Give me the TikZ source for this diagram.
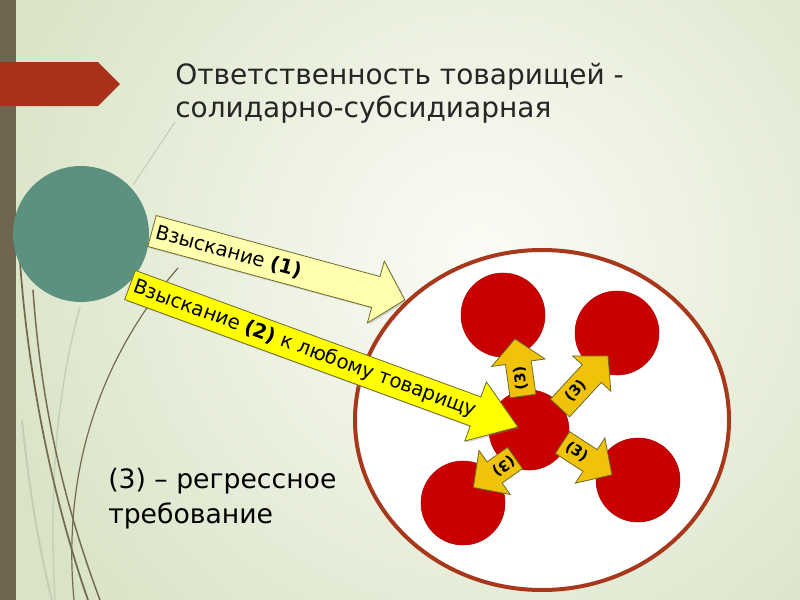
\documentclass[tikz,border=0pt]{standalone}
\usepackage{fontspec}
\setmainfont{DejaVu Sans}
\usetikzlibrary{calc,shadows}
\definecolor{bgouter}{HTML}{D9E3C6}
\definecolor{bginner}{HTML}{FBFCF6}
\definecolor{barcol}{HTML}{6E6650}
\definecolor{pentred}{HTML}{A93119}
\definecolor{tealc}{HTML}{5B917E}
\definecolor{ringcol}{HTML}{A8381C}
\definecolor{redc}{HTML}{C80000}
\definecolor{paley}{HTML}{FFFFAE}
\definecolor{brighty}{HTML}{FFFF00}
\definecolor{goldc}{HTML}{F0C20A}
\definecolor{olivec}{HTML}{6F6A2A}
\definecolor{wisp}{HTML}{736A50}
\definecolor{wisplight}{HTML}{C6CCB6}
\definecolor{txt}{HTML}{262626}
\tikzset{
  bigarrow/.style={draw=olivec, line width=0.6pt, line join=miter},
  arrowshadow/.style={drop shadow={opacity=0.3, shadow xshift=1.2pt, shadow yshift=-1.2pt}},
  arrowtext/.style={font=\fontsize{14.8}{17}\selectfont, text=black, inner sep=0pt},
  smallarrow/.style={draw=olivec, line width=0.6pt, fill=goldc, line join=miter},
  smalltext/.style={font=\fontsize{11}{13}\selectfont\bfseries, text=black, inner sep=0pt},
  redball/.style={fill=redc, draw=redc!85!black, line width=0.4pt},
  wispline/.style={draw=wisp, line cap=round},
  wispfaint/.style={draw=wisplight, line cap=round},
  titletext/.style={font=\fontsize{21}{24.5}\selectfont, text=txt, align=left, inner sep=0pt},
  bottomtext/.style={font=\fontsize{20}{26}\selectfont, text=black, align=left, inner sep=0pt}
}
\begin{document}
\begin{tikzpicture}[x=0.75pt,y=-0.75pt]
\useasboundingbox (0,0) rectangle (800,600);
% background
\fill[bgouter] (0,0) rectangle (800,600);
\begin{scope}
  \clip (0,0) rectangle (800,600);
  \shade[inner color=bginner, outer color=bgouter] (480,260) circle[radius=520];
\end{scope}
% faint wisps
\draw[wispfaint, line width=1.5pt] (22,420) .. controls (30,500) and (42,560) .. (52,600);
\draw[wispfaint, line width=1pt] (80,307) .. controls (60,380) and (48,470) .. (55,600);
\draw[wispfaint, line width=0.8pt] (133,185) -- (175,122);
% dark wisps
\draw[wispline, line width=1.3pt] (20,262) .. controls (30,400) and (60,520) .. (88,600);
\draw[wispline, line width=1.1pt] (33,290) .. controls (42,420) and (70,520) .. (100,600);
\draw[wispline, line width=0.9pt] (178,268) .. controls (115,340) and (60,450) .. (74,600);
% left bar
\fill[barcol] (0,0) rectangle (16,600);
% red pentagon
\fill[pentred] (0,62) -- (98,62) -- (120,84) -- (98,106) -- (0,106) -- cycle;
% teal circle
\fill[tealc] (81,234) circle[radius=68];
% title
\node[titletext, anchor=base west] (title) at (175,117)
  {Ответственность товарищей -\\солидарно-субсидиарная};
% arrow 1
\begin{scope}[shift={(152,231)}, rotate=-15.25]
  \draw[bigarrow, arrowshadow, fill=paley] (0,-16) -- (232,-16) -- (232,-32) -- (262,0)
     -- (232,32) -- (232,16) -- (0,16) -- cycle;
  \node[arrowtext, transform shape, anchor=west] (t1) at (4,0) {Взыскание \textbf{(1)}};
\end{scope}
% big ring
\draw[ringcol, line width=3pt, fill=white] (542,420) ellipse[x radius=187, y radius=170];
% red balls
\draw[redball] (503,315) circle[radius=42];
\draw[redball] (617,333) circle[radius=42];
\draw[redball] (463,503) circle[radius=42];
\draw[redball] (638,480) circle[radius=42];
\draw[redball] (529,430) circle[radius=40];
% arrow 2
\begin{scope}[shift={(130,285)}, rotate=-20.1]
  \draw[bigarrow, arrowshadow, fill=brighty] (0,-15.5) -- (368,-15.5) -- (368,-31.5) -- (413,0)
     -- (368,31.5) -- (368,15.5) -- (0,15.5) -- cycle;
  \node[arrowtext, transform shape, anchor=west] (t2) at (4,0) {Взыскание \textbf{(2)} к любому товарищу};
\end{scope}
% small arrows (3)
\begin{scope}[shift={(523,396)}, rotate=98]
  \draw[smallarrow] (0,-13) -- (33.6,-13) -- (33.6,-27) -- (57.6,0) -- (33.6,27) -- (33.6,13) -- (0,13) -- cycle;
  \node[smalltext, transform shape] (s1) at (18,0) {(3)};
\end{scope}
\begin{scope}[shift={(560,408)}, rotate=47.3]
  \draw[smallarrow] (0,-13) -- (46.8,-13) -- (46.8,-26) -- (70.8,0) -- (46.8,26) -- (46.8,13) -- (0,13) -- cycle;
  \node[smalltext, transform shape] (s2) at (23,0) {(3)};
\end{scope}
\begin{scope}[shift={(562.5,442.5)}, rotate=-33.2]
  \draw[smallarrow] (0,-13) -- (33,-13) -- (33,-27) -- (59,0) -- (33,27) -- (33,13) -- (0,13) -- cycle;
  \node[smalltext, transform shape] (s3) at (17,0) {(3)};
\end{scope}
\begin{scope}[shift={(515,458)}, rotate=215.3]
  \draw[smallarrow] (0,-13) -- (25,-13) -- (25,-27) -- (51,0) -- (25,27) -- (25,13) -- (0,13) -- cycle;
  \node[smalltext, transform shape] (s4) at (14,0) {(3)};
\end{scope}
% bottom text
\node[bottomtext, anchor=base west] (legend) at (108,523) {(3) – регрессное\\требование};
\end{tikzpicture}
\end{document}
